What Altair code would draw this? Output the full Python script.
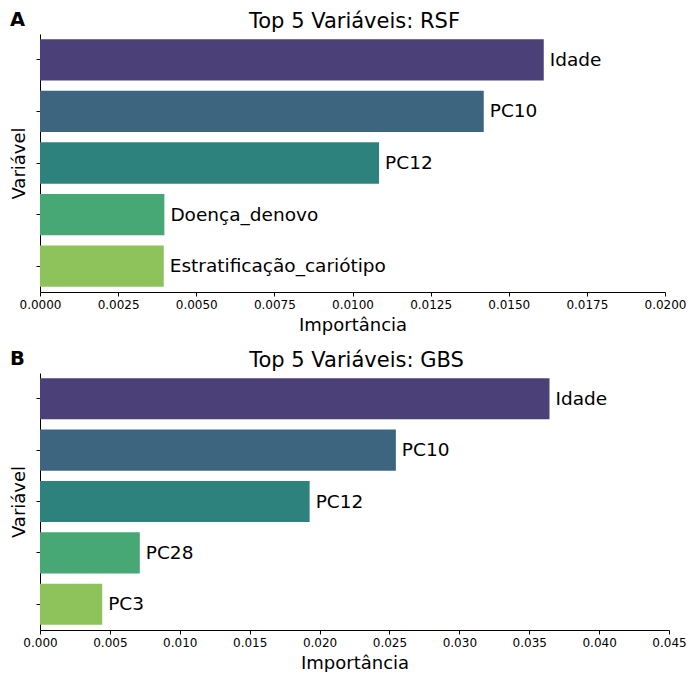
import altair as alt
import pandas as pd

# Panel A (RSF)
rsf_vars = ["Idade", "PC10", "PC12", "Doença_denovo", "Estratificação_cariótipo"]
rsf_imp = [0.01612, 0.01420, 0.01085, 0.00398, 0.00396]
# Panel B (GBS)
gbs_vars = ["Idade", "PC10", "PC12", "PC28", "PC3"]
gbs_imp = [0.03645, 0.02546, 0.01929, 0.00714, 0.00445]

ranks = [1, 2, 3, 4, 5]
palette = ["#4b4178", "#3e6580", "#2e827d", "#47a876", "#8ec35b"]

rsf_ticks = [0.0, 0.0025, 0.005, 0.0075, 0.01, 0.0125, 0.015, 0.0175, 0.02]
gbs_ticks = [0.0, 0.005, 0.01, 0.015, 0.02, 0.025, 0.03, 0.035, 0.04, 0.045]

FONT = "DejaVu Sans"


def panel(vars_, imps, ticks, fmt, title, letter, width, height):
    df = pd.DataFrame({"Variavel": vars_, "Importancia": imps, "rank": ranks})
    base = alt.Chart(df).properties(width=width, height=height)
    y = alt.Y("Variavel:N", sort=vars_,
              scale=alt.Scale(paddingInner=0.2, paddingOuter=0.1),
              axis=alt.Axis(title="Variável", labels=False, ticks=True, tickSize=4,
                            tickColor="black", domainColor="black", titleFontSize=18,
                            titleFont=FONT, titleFontWeight="normal", titleColor="black",
                            titlePadding=7, grid=False))
    x = alt.X("Importancia:Q",
              scale=alt.Scale(domain=[ticks[0], ticks[-1]], nice=False, zero=True),
              axis=alt.Axis(title="Importância", values=ticks, format=fmt, tickSize=4,
                            tickColor="black", domainColor="black", labelFontSize=12,
                            labelFont=FONT, labelColor="black", labelPadding=3,
                            titleFontSize=18, titleFont=FONT, titleFontWeight="normal",
                            titleColor="black", titlePadding=6, grid=False,
                            labelFlush=False))
    bars = base.mark_bar().encode(
        x=x, y=y,
        color=alt.Color("rank:O", scale=alt.Scale(domain=ranks, range=palette), legend=None),
    )
    labels = base.mark_text(align="left", baseline="middle", dx=6, fontSize=18.5,
                            font=FONT, color="black").encode(
        x="Importancia:Q", y=alt.Y("Variavel:N", sort=vars_), text="Variavel:N")
    head = alt.Chart(pd.DataFrame({"t": [title]})).mark_text(
        align="center", baseline="alphabetic", fontSize=21, font=FONT, color="black"
    ).encode(x=alt.value(width / 2 + 2), y=alt.value(-6), text="t:N")
    tag = alt.Chart(pd.DataFrame({"t": [letter]})).mark_text(
        align="left", baseline="alphabetic", fontSize=19.5, fontWeight="bold",
        font=FONT, color="black"
    ).encode(x=alt.value(-30), y=alt.value(-8), text="t:N")
    return alt.layer(bars, labels, head, tag)


a = panel(rsf_vars, rsf_imp, rsf_ticks, ".4f", "Top 5 Variáveis: RSF", "A", 625, 258)
b = panel(gbs_vars, gbs_imp, gbs_ticks, ".3f", "Top 5 Variáveis: GBS", "B", 629, 257)

chart = alt.vconcat(a, b, spacing=15).properties(
    padding={"left": 2, "top": 2, "right": 0, "bottom": 0}
).configure(font=FONT).configure_view(stroke=None)

chart.save("out.html", embed_options={"renderer": "svg", "actions": False})
